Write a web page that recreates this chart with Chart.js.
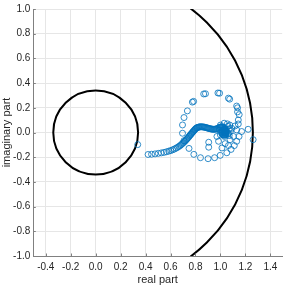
<!DOCTYPE html>
<html>
<head>
<meta charset="utf-8">
<script src="https://cdn.jsdelivr.net/npm/chart.js@4.4.1/dist/chart.umd.min.js"></script>
<style>
  html, body { margin: 0; padding: 0; background: #fff; }
  #wrap { width: 287px; height: 287px; }
</style>
</head>
<body>
<div id="wrap"><canvas id="nyq" width="287" height="287"></canvas></div>
<script>
const xTicks = [-0.4, -0.2, 0.0, 0.2, 0.4, 0.6, 0.8, 1.0, 1.2, 1.4];
const yTicks = [-1.0, -0.8, -0.6, -0.4, -0.2, 0.0, 0.2, 0.4, 0.6, 0.8, 1.0];

// circles drawn around the origin
const circleRadius = [0.34, 1.26];

// locus samples (real, imaginary)
const realPart = [
    0.337,
    0.420, 0.448, 0.476, 0.502, 0.526, 0.548, 0.568, 0.586, 0.602, 0.617,
    0.631, 0.644, 0.656, 0.667, 0.677, 0.686, 0.695, 0.703, 0.711, 0.718,
    0.725, 0.731, 0.737, 0.743, 0.749, 0.754, 0.759, 0.764, 0.769, 0.774,
    0.779, 0.784, 0.789, 0.794, 0.799, 0.804, 0.809, 0.814, 0.820, 0.826,
    0.832, 0.838, 0.845, 0.852, 0.859, 0.866, 0.873, 0.880, 0.887, 0.894,
    0.901, 0.908, 0.915, 0.922, 0.929, 0.936, 0.943, 0.950, 0.957, 0.964,
    0.971, 0.978, 0.985, 0.991, 0.997, 1.003, 1.009, 1.015, 1.021, 1.027,
    1.032, 1.036, 1.040, 1.043, 1.045, 1.046, 1.046, 1.044, 1.040, 1.035,
    1.029, 1.023, 1.018, 1.014, 1.012, 1.012, 1.014, 1.018, 1.023, 1.029,
    1.035, 1.040, 1.043, 1.044, 1.042, 1.038, 1.033, 1.028,
    1.060, 1.070, 1.080, 1.075, 1.055, 1.030, 1.000, 0.990, 1.000, 1.060, 1.070,
    0.972, 0.985, 1.032, 1.064, 1.091, 1.117, 1.130, 1.104, 1.077, 1.038, 1.012, 1.064, 1.143,
    0.906, 0.906,
    1.262, 1.222, 1.170, 1.149, 1.130, 1.111, 1.085, 1.051, 0.998, 0.953,
    0.901, 0.840, 0.787, 0.748, 0.708, 0.696, 0.696, 0.708, 0.735, 0.775, 0.785,
    0.866, 0.880, 0.980, 0.993, 1.064, 1.074, 1.130, 1.137, 1.137, 1.143, 1.150
];
const imagPart = [
    -0.098,
    -0.178, -0.176, -0.173, -0.169, -0.165, -0.161, -0.156, -0.151, -0.146, -0.140,
    -0.134, -0.127, -0.120, -0.113, -0.106, -0.098, -0.090, -0.083, -0.075, -0.068,
    -0.060, -0.053, -0.046, -0.039, -0.032, -0.025, -0.019, -0.013, -0.007, -0.001,
    0.005, 0.011, 0.017, 0.023, 0.028, 0.033, 0.037, 0.040, 0.042, 0.044,
    0.045, 0.046, 0.046, 0.046, 0.045, 0.044, 0.043, 0.041, 0.039, 0.037,
    0.035, 0.033, 0.031, 0.029, 0.028, 0.027, 0.026, 0.026, 0.027, 0.028,
    0.030, 0.033, 0.036, 0.040, 0.043, 0.045, 0.046, 0.045, 0.042, 0.038,
    0.033, 0.027, 0.021, 0.014, 0.007, 0.000, -0.007, -0.013, -0.018, -0.021,
    -0.022, -0.020, -0.016, -0.010, -0.003, 0.004, 0.011, 0.017, 0.021, 0.023,
    0.022, 0.018, 0.012, 0.006, 0.000, -0.004, -0.005, -0.003,
    0.050, 0.030, 0.010, 0.060, 0.070, 0.075, 0.060, 0.020, -0.020, -0.010, -0.025,
    -0.032, -0.071, -0.032, -0.006, 0.034, 0.053, 0.021, -0.032, -0.058, -0.090, -0.125, -0.106, 0.069,
    -0.079, -0.119,
    -0.058, 0.026, 0.008, -0.032, -0.071, -0.106, -0.137, -0.164, -0.185, -0.204,
    -0.212, -0.204, -0.177, -0.129, -0.066, -0.006, 0.061, 0.121, 0.175, 0.246, 0.252,
    0.312, 0.314, 0.320, 0.318, 0.278, 0.270, 0.214, 0.200, 0.167, 0.101, 0.145
];

const points = realPart.map((re, i) => ({ x: re, y: imagPart[i] }));

const axisColor = "#808080";
const textColor = "#262626";
const fontFamily = "'Liberation Sans', Arial, sans-serif";

const circlesPlugin = {
    id: "circles",
    beforeDatasetsDraw(chart) {
        const ctx = chart.ctx;
        const xs = chart.scales.x, ys = chart.scales.y;
        const a = chart.chartArea;
        ctx.save();
        ctx.beginPath();
        ctx.rect(a.left, a.top, a.right - a.left, a.bottom - a.top);
        ctx.clip();
        ctx.strokeStyle = "#000";
        ctx.lineWidth = 2;
        circleRadius.forEach(r => {
            const cx = xs.getPixelForValue(0);
            const cy = ys.getPixelForValue(0);
            const rx = xs.getPixelForValue(r) - cx;
            const ry = cy - ys.getPixelForValue(r);
            ctx.beginPath();
            ctx.ellipse(cx, cy, rx, ry, 0, 0, Math.PI * 2);
            ctx.stroke();
        });
        ctx.restore();
    }
};

// MATLAB style ticks pointing into the axes
const innerTicks = {
    id: "innerTicks",
    afterDraw(chart) {
        const ctx = chart.ctx;
        const xs = chart.scales.x, ys = chart.scales.y;
        const a = chart.chartArea;
        ctx.save();
        ctx.strokeStyle = axisColor;
        ctx.lineWidth = 1;
        ctx.beginPath();
        xTicks.forEach(v => {
            const px = Math.round(xs.getPixelForValue(v)) + 0.5;
            ctx.moveTo(px, a.bottom);
            ctx.lineTo(px, a.bottom - 2.5);
        });
        yTicks.forEach(v => {
            const py = Math.round(ys.getPixelForValue(v)) + 0.5;
            ctx.moveTo(a.left, py);
            ctx.lineTo(a.left + 2.5, py);
        });
        ctx.stroke();
        ctx.restore();
    }
};

new Chart(document.getElementById("nyq").getContext("2d"), {
    type: "scatter",
    data: {
        datasets: [{
            data: points,
            showLine: false,
            pointStyle: "circle",
            pointRadius: 3,
            pointBorderWidth: 0.8,
            borderColor: "#0072BD",
            backgroundColor: "rgba(0,0,0,0)"
        }]
    },
    options: {
        responsive: false,
        animation: false,
        layout: { padding: { top: 4, right: 0, left: 0, bottom: 0 } },
        plugins: { legend: { display: false }, tooltip: { enabled: false } },
        scales: {
            x: {
                type: "linear",
                min: -0.5,
                max: 1.495,
                afterBuildTicks: s => { s.ticks = xTicks.map(v => ({ value: v })); },
                afterFit: s => { s.height = 31; },
                grid: { color: "#e6e6e6", drawTicks: false },
                border: { color: axisColor },
                ticks: {
                    padding: 5,
                    color: textColor,
                    font: { family: fontFamily, size: 10 },
                    maxRotation: 0,
                    callback: v => Number(v).toFixed(1)
                },
                title: {
                    display: true,
                    text: "real part",
                    color: textColor,
                    font: { family: fontFamily, size: 11 },
                    padding: { top: 0, bottom: 0 }
                }
            },
            y: {
                type: "linear",
                min: -1,
                max: 1,
                afterBuildTicks: s => { s.ticks = yTicks.map(v => ({ value: v })); },
                afterFit: s => { s.width = 33.3; },
                grid: { color: "#e6e6e6", drawTicks: false },
                border: { color: axisColor },
                ticks: {
                    padding: 3,
                    color: textColor,
                    font: { family: fontFamily, size: 10 },
                    callback: v => Number(v).toFixed(1)
                },
                title: {
                    display: true,
                    text: "imaginary part",
                    color: textColor,
                    font: { family: fontFamily, size: 11 },
                    padding: { top: 0, bottom: 0 }
                }
            }
        }
    },
    plugins: [circlesPlugin, innerTicks]
});
</script>
</body>
</html>
